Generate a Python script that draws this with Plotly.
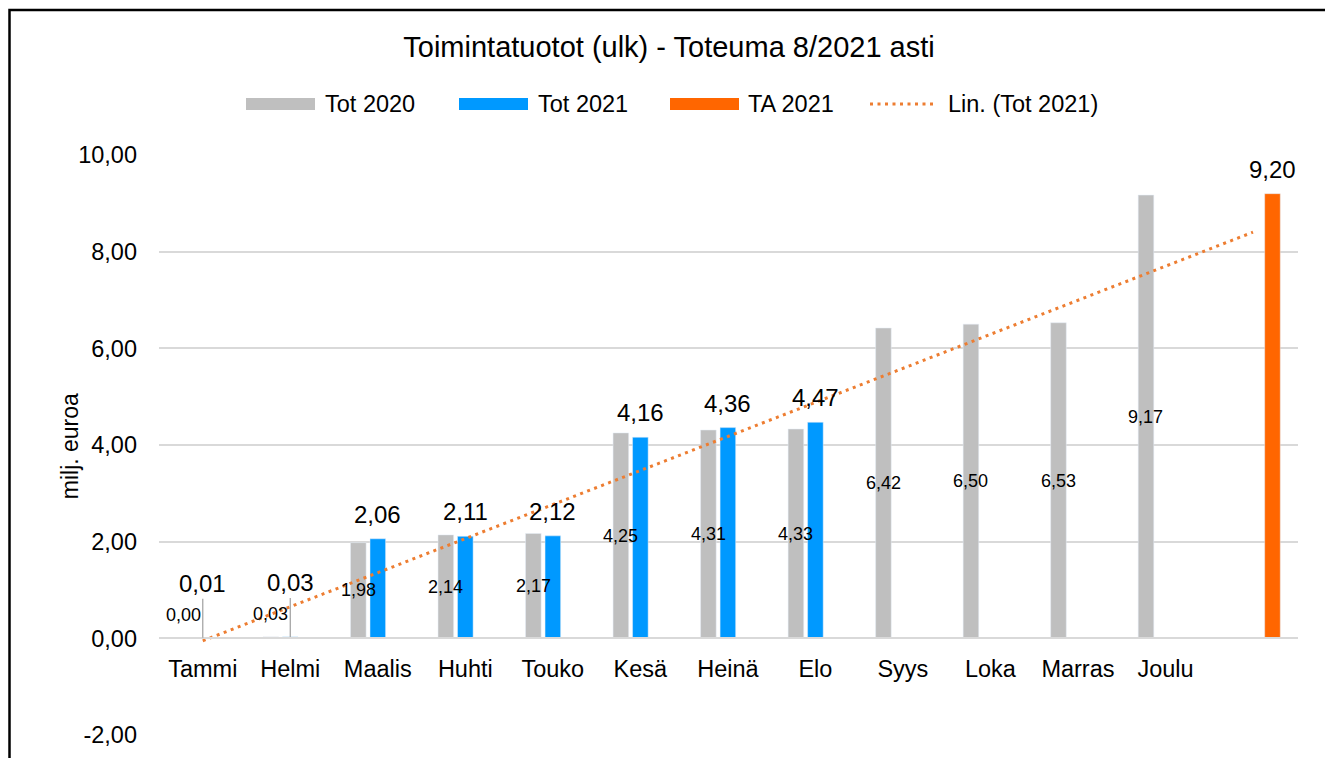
import numpy as np
import plotly.graph_objects as go

# ---------------- data ----------------
months = ["Tammi", "Helmi", "Maalis", "Huhti", "Touko", "Kesä", "Heinä",
          "Elo", "Syys", "Loka", "Marras", "Joulu"]
extra_cat = " "                      # 13th (unnamed) category for the budget bar
categories = months + [extra_cat]
tot2020 = [0.00, 0.03, 1.98, 2.14, 2.17, 4.25, 4.31, 4.33, 6.42, 6.50, 6.53, 9.17]
tot2021 = [0.01, 0.03, 2.06, 2.11, 2.12, 4.16, 4.36, 4.47]
ta2021 = [9.20]
y_ticks = [-2, 0, 2, 4, 6, 8, 10]

# ---------------- layout constants ----------------
OFF = 8                               # page body margin
W, H = 1333 - OFF, 758 - OFF
PLOT_L, PLOT_R, PLOT_T, PLOT_B = 159, 1298, 154.5, 735   # screen pixels
L, T = PLOT_L - OFF, PLOT_T - OFF
R, B = W - (PLOT_R - OFF), H - (PLOT_B - OFF)
PW, PH = W - L - R, H - T - B
FONT = "Liberation Sans, Arial, sans-serif"
C2020, C2021, CTA, CLIN = "#BFBFBF", "#0099FF", "#FF6600", "#ED7D31"
BARGAP, GROUPGAP = 0.332, 0.2
cat_w = PW / len(categories)
slot = cat_w * (1 - BARGAP) / 3


def px(x):   # screen x -> paper
    return (x - PLOT_L) / PW


def py(y):   # screen y -> paper
    return (PLOT_B - y) / PH


def fmt(v):
    return f"{v:.2f}".replace(".", ",")


# linear trendline of Tot 2021 (like Excel's "Lin." trendline), over all categories
xi = np.arange(1, len(tot2021) + 1)
slope, intercept = np.polyfit(xi, tot2021, 1)
trend = slope * np.arange(1, len(categories) + 1) + intercept

fig = go.Figure()
fig.add_trace(go.Bar(name="Tot 2020", x=months, y=tot2020, marker_color=C2020,
                     showlegend=False))
fig.add_trace(go.Bar(name="Tot 2021", x=months[:len(tot2021)], y=tot2021,
                     marker_color=C2021, showlegend=False))
fig.add_trace(go.Bar(name="TA 2021", x=[extra_cat], y=ta2021, marker_color=CTA,
                     showlegend=False))
fig.add_trace(go.Scatter(name="Lin. (Tot 2021)", x=categories, y=trend, mode="lines",
                         line=dict(color=CLIN, width=3, dash="3px,4.5px"),
                         showlegend=False))

ann = []
# Tot 2020 labels
for m, v in zip(months, tot2020):
    if v < 0.5:
        ann.append(dict(x=m, y=v, text=fmt(v), showarrow=False, xshift=-slot,
                        yanchor="bottom", yshift=11, font=dict(size=18)))
    else:
        ann.append(dict(x=m, y=v / 2, text=fmt(v), showarrow=False, xshift=-slot,
                        yanchor="middle", font=dict(size=18)))
# Tot 2021 labels
for m, v in zip(months, tot2021):
    if v < 0.5:
        ann.append(dict(x=m, y=v, text=fmt(v), showarrow=True, arrowhead=0,
                        ax=0, ay=-54, arrowcolor="#A6A6A6", arrowwidth=1.3,
                        standoff=0, font=dict(size=24)))
    else:
        ann.append(dict(x=m, y=v, text=fmt(v), showarrow=False,
                        yanchor="bottom", yshift=9, font=dict(size=24)))
# TA 2021 label
for v in ta2021:
    ann.append(dict(x=extra_cat, y=v, text=fmt(v), showarrow=False, xshift=slot,
                    yanchor="bottom", yshift=9, font=dict(size=24)))

# y axis title
ann.append(dict(xref="paper", yref="paper", x=px(55), y=py(446), text="milj. euroa",
                textangle=-90, showarrow=False, font=dict(size=23)))

# custom legend (wide swatches like Excel)
legend_items = [("Tot 2020", C2020, 246, 315, 323, "solid"),
                ("Tot 2021", C2021, 459, 528, 536, "solid"),
                ("TA 2021", CTA, 670, 739, 746, "solid"),
                ("Lin. (Tot 2021)", CLIN, 870, 937, 946, "dot")]
LEG_Y = 103.5
shapes = []
for name, col, x0, x1, xt, kind in legend_items:
    if kind == "solid":
        shapes.append(dict(type="line", xref="paper", yref="paper",
                           x0=px(x0), x1=px(x1), y0=py(LEG_Y), y1=py(LEG_Y),
                           line=dict(color=col, width=12)))
    else:
        shapes.append(dict(type="line", xref="paper", yref="paper",
                           x0=px(x0), x1=px(x1), y0=py(LEG_Y), y1=py(LEG_Y),
                           line=dict(color=col, width=3, dash="3px,4.5px")))
    ann.append(dict(xref="paper", yref="paper", x=px(xt), y=py(LEG_Y), text=name,
                    xanchor="left", yanchor="middle", showarrow=False,
                    font=dict(size=23.5)))

# chart border
shapes.append(dict(type="rect", xref="paper", yref="paper", x0=px(9.5), x1=px(1327.5),
                   y0=py(820), y1=py(9.5), line=dict(color="#000000", width=2.5),
                   fillcolor="rgba(0,0,0,0)", layer="above"))

fig.update_layout(
    width=W, height=H,
    margin=dict(l=L, r=R, t=T, b=B, pad=0, autoexpand=False),
    paper_bgcolor="white", plot_bgcolor="white",
    font=dict(family=FONT, color="#000000", size=23.5),
    separators=", ",
    barmode="group", bargap=BARGAP, bargroupgap=GROUPGAP,
    title=dict(text="Toimintatuotot (ulk) - Toteuma 8/2021 asti", xref="container",
               x=(669 - OFF) / W, xanchor="center", yref="container",
               y=1 - (47 - OFF) / H, yanchor="middle",
               font=dict(size=29, color="#000000")),
    showlegend=False,
    annotations=ann,
    shapes=shapes,
)
fig.update_xaxes(type="category", categoryorder="array", categoryarray=categories,
                 anchor="free", position=2 / 12, automargin=False,
                 showline=True, linecolor="#D9D9D9", linewidth=2,
                 showgrid=False, ticks="", ticklabelstandoff=9,
                 tickfont=dict(size=23.5, color="#000000"))
fig.update_yaxes(range=[-2, 10], tickvals=y_ticks, ticktext=[fmt(v) for v in y_ticks],
                 automargin=False,
                 showgrid=True, gridcolor="#D9D9D9", gridwidth=2,
                 zeroline=True, zerolinecolor="#D9D9D9", zerolinewidth=2,
                 showline=False, ticks="", ticklabelstandoff=21,
                 tickfont=dict(size=23.5, color="#000000"))

fig.write_html("out.html")
